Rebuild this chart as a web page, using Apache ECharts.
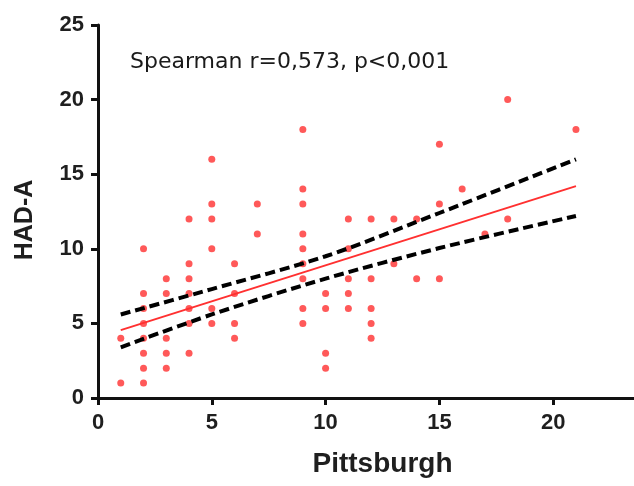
<!DOCTYPE html>
<html>
<head>
<meta charset="utf-8">
<script src="https://cdn.jsdelivr.net/npm/echarts@6/dist/echarts.min.js"></script>
<style>
  html, body { margin: 0; padding: 0; background: #fff; overflow: hidden; }
  /* wider than the window: the x axis runs on to 25 past the right edge, as in the cropped original */
  #chart { width: 667px; height: 486px; }
</style>
</head>
<body>
<div id="chart"></div>
<script>
// scatter points (Pittsburgh, HAD-A)
const pittsburgh = [1, 1,
  2, 2, 2, 2, 2, 2, 2, 2,
  3, 3, 3, 3, 3,
  4, 4, 4, 4, 4, 4, 4,
  5, 5, 5, 5, 5, 5,
  6, 6, 6, 6,
  7, 7,
  9, 9, 9, 9, 9, 9, 9, 9, 9,
  10, 10, 10, 10,
  11, 11, 11, 11, 11,
  12, 12, 12, 12, 12,
  13, 13,
  14, 14,
  15, 15, 15,
  16, 17, 18, 18, 21];
const hadA = [1, 4,
  10, 7, 6, 5, 4, 3, 2, 1,
  8, 7, 4, 3, 2,
  12, 9, 8, 7, 6, 5, 3,
  16, 13, 12, 10, 6, 5,
  9, 7, 5, 4,
  13, 11,
  18, 14, 13, 11, 10, 9, 8, 6, 5,
  7, 6, 3, 2,
  12, 10, 8, 7, 6,
  12, 8, 6, 5, 4,
  12, 9,
  12, 8,
  17, 13, 8,
  14, 11, 20, 12, 18];

// regression line and 95% band
const fitX = [1, 21];
const fitY = [4.55, 14.2];
const bandX = [1, 5, 10, 15, 21];
const bandUpper = [5.6, 7.3, 9.5, 12.4, 16.0];
const bandLower = [3.4, 5.6, 8.0, 10.05, 12.2];

const xTicks = [0, 5, 10, 15, 20, 25];
const yTicks = [0, 5, 10, 15, 20, 25];

const pair = (xs, ys) => xs.map((x, i) => [x, ys[i]]);

const axisFont = {
    fontFamily: 'Liberation Sans, Arial, sans-serif',
    fontWeight: 'bold',
    fontSize: 22,
    color: '#1f1f1f'
};

let myChart = echarts.init(document.getElementById('chart'));
myChart.setOption({
    animation: false,
    title: {
        text: 'Spearman r=0,573, p<0,001',
        left: 125,
        top: 46,
        textStyle: {
            fontFamily: 'DejaVu Sans, sans-serif',
            fontWeight: 'normal',
            fontSize: 22,
            color: '#1a1a1a'
        }
    },
    grid: { left: 98, top: 25, right: 0, bottom: 88, outerBoundsMode: 'none' },
    xAxis: {
        type: 'value',
        min: xTicks[0],
        max: xTicks[xTicks.length - 1],
        interval: 5,
        name: 'Pittsburgh',
        nameLocation: 'middle',
        nameGap: 52,
        nameTextStyle: Object.assign({}, axisFont, { fontSize: 28 }),
        axisLine: { lineStyle: { color: '#111', width: 3 } },
        axisTick: { length: 7, lineStyle: { color: '#111', width: 3 } },
        axisLabel: Object.assign({ margin: 14 }, axisFont),
        splitLine: { show: false }
    },
    yAxis: {
        type: 'value',
        min: yTicks[0],
        max: yTicks[yTicks.length - 1],
        interval: 5,
        name: 'HAD-A',
        nameLocation: 'middle',
        nameGap: 60,
        nameTextStyle: Object.assign({}, axisFont, { fontSize: 25, padding: [0, 17, 0, 0] }),
        axisLine: { onZero: false, lineStyle: { color: '#111', width: 3 } },
        axisTick: { length: 7, lineStyle: { color: '#111', width: 3 } },
        axisLabel: Object.assign({ margin: 14 }, axisFont),
        splitLine: { show: false }
    },
    series: [
        {
            type: 'scatter',
            data: pair(pittsburgh, hadA),
            symbolSize: 7,
            itemStyle: { color: '#ff3030' }
        },
        {
            type: 'line',
            data: pair(fitX, fitY),
            showSymbol: false,
            lineStyle: { color: '#ff3030', width: 2 }
        },
        {
            type: 'line',
            data: pair(bandX, bandUpper),
            showSymbol: false,
            smooth: 0.3,
            lineStyle: { color: '#000', width: 4, type: [10, 5] }
        },
        {
            type: 'line',
            data: pair(bandX, bandLower),
            showSymbol: false,
            smooth: 0.3,
            lineStyle: { color: '#000', width: 4, type: [10, 5] }
        }
    ]
});
</script>
</body>
</html>
